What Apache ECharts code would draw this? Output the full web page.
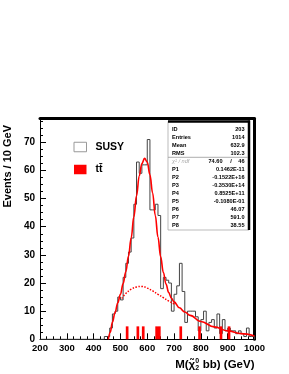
<!DOCTYPE html>
<html><head><meta charset="utf-8">
<script src="https://cdn.jsdelivr.net/npm/echarts@6/dist/echarts.min.js"></script>
<style>html,body{margin:0;padding:0;background:#fff}#c{width:289px;height:374px}</style>
</head><body><div id="c"></div>
<script>
// ---------- data ----------
const binWidth = 10;
const susyBinLow = [440,450,460,470,480,490,500,510,520,530,540,550,560,570,580,590,600,610,620,630,640,650,660,670,680,690,700,710,720,730,740,750,760,770,780,790,800,810,820,830,840,850,860,870,880,890,900,910,920,930,940,950,960,970,980,990];
const susyCounts = [1,1,4,9,10,15,14,22,27,31,36,48,63,59,62,62,71,46,46,48,44,18,22,21,20,10,16,19,27,17,6,10,10,10,8,3,7,10,3,6,7,4,9,2,7,3,4,3,3,2,3,2,1,4,1,1];
const ttBinLow = [520,560,580,630,640,720,790,870,900];
const ttCounts = [4.6,4.6,4.6,4.6,4.6,4.6,4.6,4.6,4.6];
const fitX = [455,462,470,480,490,500,510,520,530,540,550,560,570,580,590,600,610,620,630,640,650,660,670,680,690,700,720,740,760,800,850,900,950,1000];
const fitY = [0,2.5,6,9.5,13,16,19.8,24,29.5,36,43.5,51,58,62.5,64.3,63,58.5,52,44,36.3,29.3,23.8,19.6,16.6,14.6,13.3,11.2,9.7,8.5,6.3,4.4,3.0,2.0,1.2];
const bkgX = [505,520,540,560,580,600,620,640,660,680,700,705];
const bkgY = [14.5,16.3,17.8,18.6,18.8,18.2,17.2,16.0,14.8,13.6,12.6,12.4];
const xMin = 200, xMax = 1000, xStep = 100;
const yMin = 0, yMax = 78.4, yStep = 10;
const statsNames = ['ID','Entries','Mean','RMS'];
const statsValues = ['203','1014','632.9','102.3'];
const chi2Value = '74.60', ndfValue = '46';
const parNames = ['P1','P2','P3','P4','P5','P6','P7','P8'];
const parValues = ['0.1462E-11','-0.1522E+16','-0.3530E+14','0.8525E+11','-0.1080E-01','46.07','591.0','38.55'];

// ---------- chart ----------
const FF = '"Liberation Sans", Arial, Helvetica, sans-serif';
const chart = echarts.init(document.getElementById('c'), null, {renderer:'canvas'});

const histData = [[xMin,0]];
susyBinLow.forEach((b,i)=>histData.push([b, susyCounts[i]]));
histData.push([susyBinLow[susyBinLow.length-1]+binWidth, 0]);
const ttData = ttBinLow.map((b,i)=>[b, b+binWidth, ttCounts[i]]);
const fitData = fitX.map((x,i)=>[x, fitY[i]]);
const bkgData = bkgX.map((x,i)=>[x, bkgY[i]]);

// measure text for x title
const mctx = document.createElement('canvas').getContext('2d');
function tw(t, f){ mctx.font = f; return mctx.measureText(t).width; }
const fMain = 'bold 11.5px ' + FF, fSmall = 'bold 7px ' + FF;
const partA = 'M(\u03C7\u0303', partB = ' bb) (GeV)';
const xr = 254.5, ty = 364.5;
const wB = tw(partB, fMain), wS = Math.max(tw('2', fSmall), tw('0', fSmall)) + 0.5;
const xS = xr - wB - wS;

const graphics = [
  {type:'text', x:7.5, y:125, rotation:Math.PI/2, style:{text:'Events / 10 GeV', font:'bold 11px ' + FF, fill:'#000', textAlign:'right', textVerticalAlign:'middle'}},
  {type:'text', x:xS, y:ty, style:{text:partA, font:fMain, fill:'#000', textAlign:'right', textVerticalAlign:'middle'}},
  {type:'text', x:xS, y:ty-3.5, style:{text:'0', font:fSmall, fill:'#000', textAlign:'left', textVerticalAlign:'middle'}},
  {type:'text', x:xS, y:ty+3.5, style:{text:'2', font:fSmall, fill:'#000', textAlign:'left', textVerticalAlign:'middle'}},
  {type:'text', x:xr, y:ty, style:{text:partB, font:fMain, fill:'#000', textAlign:'right', textVerticalAlign:'middle'}},
  // stats box
  {type:'rect', shape:{x:168, y:121.5, width:81, height:108.5}, style:{fill:'#fff', stroke:'#aaa', lineWidth:0.8}, z:10},
  {type:'line', shape:{x1:168, y1:121.5, x2:250, y2:121.5}, style:{stroke:'#000', lineWidth:2.5}, z:11},
  {type:'line', shape:{x1:249, y1:120.5, x2:249, y2:230}, style:{stroke:'#000', lineWidth:2.5}, z:11},
  {type:'line', shape:{x1:168, y1:157.3, x2:248, y2:157.3}, style:{stroke:'#999', lineWidth:0.8}, z:11}
];
const sf = 'bold 5.6px ' + FF;
statsNames.forEach((n,i)=>{
  const y = 129.3 + 8*i;
  graphics.push({type:'text', x:172, y:y, z:12, style:{text:n, font:sf, fill:'#000', textAlign:'left', textVerticalAlign:'middle'}});
  graphics.push({type:'text', x:244.5, y:y, z:12, style:{text:statsValues[i], font:sf, fill:'#000', textAlign:'right', textVerticalAlign:'middle'}});
});
graphics.push({type:'text', x:172, y:161.5, z:12, style:{text:'\u03C7\u00B2 / ndf', font:'italic 5.6px ' + FF, fill:'#aaa', textAlign:'left', textVerticalAlign:'middle'}});
graphics.push({type:'text', x:222.5, y:161.5, z:12, style:{text:chi2Value, font:sf, fill:'#000', textAlign:'right', textVerticalAlign:'middle'}});
graphics.push({type:'text', x:231, y:161.5, z:12, style:{text:'/', font:sf, fill:'#000', textAlign:'center', textVerticalAlign:'middle'}});
graphics.push({type:'text', x:244.5, y:161.5, z:12, style:{text:ndfValue, font:sf, fill:'#000', textAlign:'right', textVerticalAlign:'middle'}});
parNames.forEach((n,i)=>{
  const y = 169.5 + 8*i;
  graphics.push({type:'text', x:172, y:y, z:12, style:{text:n, font:sf, fill:'#000', textAlign:'left', textVerticalAlign:'middle'}});
  graphics.push({type:'text', x:244.5, y:y, z:12, style:{text:parValues[i], font:sf, fill:'#000', textAlign:'right', textVerticalAlign:'middle'}});
});

const axisLabelStyle = {color:'#000', fontFamily:FF, fontWeight:'bold', fontSize:10};
const option = {
  animation:false,
  backgroundColor:'#fff',
  grid:{left:40, right:34.5, top:118.7, bottom:34.7, containLabel:false, outerBoundsMode:'none'},
  legend:{
    orient:'vertical', left:68.5, top:136.5, itemWidth:12.5, itemHeight:9.5, itemGap:11.5,
    selectedMode:false,
    textStyle:{fontFamily:FF, fontWeight:'bold', fontSize:10.5, color:'#000', lineHeight:10, padding:[0,0,0,4]},
    data:[
      {name:'SUSY', icon:'rect', itemStyle:{color:'#fff', borderColor:'#999', borderWidth:1}},
      {name:'tt\u0304', icon:'rect', itemStyle:{color:'#ff0000', borderWidth:0}}
    ]
  },
  xAxis:[
    {type:'value', min:xMin, max:xMax, interval:xStep,
     axisLine:{show:true, onZero:false, lineStyle:{color:'#000', width:1}},
     axisTick:{show:true, inside:true, length:6, lineStyle:{color:'#000', width:1}},
     minorTick:{show:true, splitNumber:4, length:3, lineStyle:{color:'#000', width:1}},
     splitLine:{show:false}, minorSplitLine:{show:false},
     axisLabel:{margin:4, fontSize:9.5, color:'#000', fontFamily:FF, fontWeight:'bold', formatter:v=>String(v)}},
    {type:'value', position:'top', min:xMin, max:xMax,
     axisLine:{show:true, onZero:false, lineStyle:{color:'#000', width:3}},
     axisTick:{show:false}, axisLabel:{show:false}, splitLine:{show:false}}
  ],
  yAxis:[
    {type:'value', min:yMin, max:yMax, interval:yStep,
     axisLine:{show:true, onZero:false, lineStyle:{color:'#000', width:1}},
     axisTick:{show:true, inside:true, length:6, lineStyle:{color:'#000', width:1}},
     minorTick:{show:true, splitNumber:4, length:3, lineStyle:{color:'#000', width:1}},
     splitLine:{show:false}, minorSplitLine:{show:false},
     axisLabel:Object.assign({margin:5, formatter:v=>(v % yStep === 0 ? String(v) : '')}, axisLabelStyle)},
    {type:'value', position:'right', min:yMin, max:yMax,
     axisLine:{show:true, onZero:false, lineStyle:{color:'#000', width:3}},
     axisTick:{show:false}, axisLabel:{show:false}, splitLine:{show:false}}
  ],
  series:[
    {name:'SUSY', type:'line', step:'end', data:histData, symbol:'none', z:2,
     lineStyle:{color:'#444', width:1}, itemStyle:{color:'#fff'}},
    {name:'tt\u0304', type:'custom', z:3, data:ttData, encode:{x:[0,1], y:2},
     itemStyle:{color:'#ff0000'},
     renderItem:(params, api)=>{
       const p0 = api.coord([api.value(0), 0]);
       const p1 = api.coord([api.value(1), api.value(2)]);
       return {type:'rect', shape:{x:p0[0], y:p1[1], width:p1[0]-p0[0], height:p0[1]-p1[1]}, style:{fill:'#ff0000'}};
     }},
    {name:'fit', type:'line', data:fitData, symbol:'none', smooth:0.4, smoothMonotone:'x', z:4,
     lineStyle:{color:'#ff0000', width:1.6}},
    {name:'bkg', type:'line', data:bkgData, symbol:'none', smooth:0.4, z:4,
     lineStyle:{color:'#ff0000', width:1.5, type:[1.5,1.5]}}
  ],
  graphic:graphics
};
chart.setOption(option);
</script>
</body></html>
